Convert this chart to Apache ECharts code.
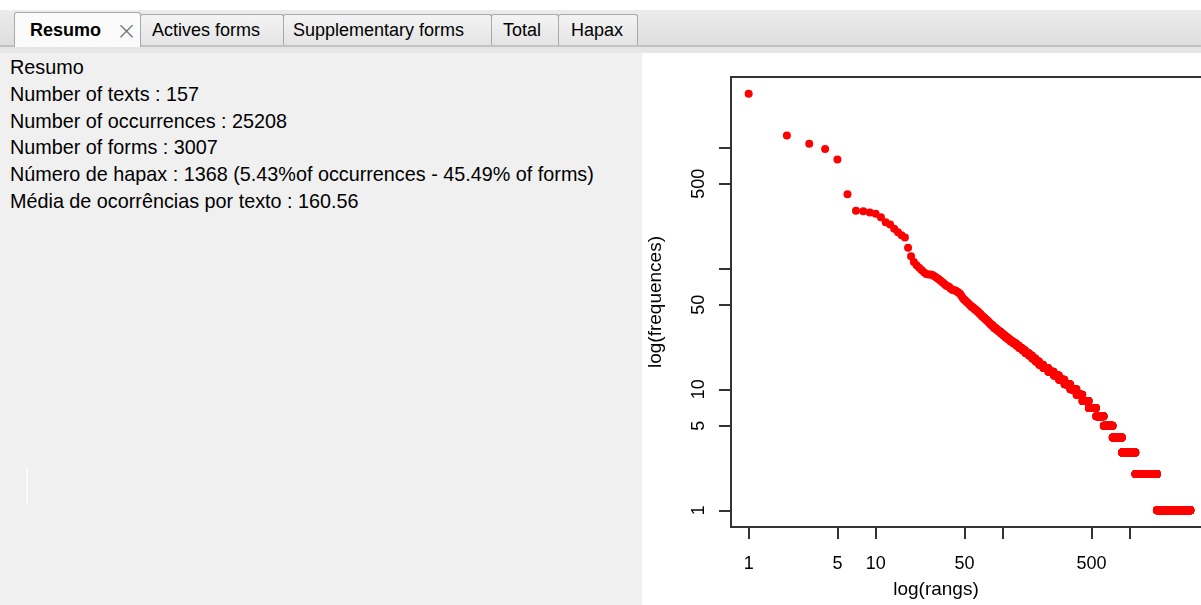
<!DOCTYPE html>
<html>
<head>
<meta charset="utf-8">
<script src="https://cdn.jsdelivr.net/npm/echarts@6/dist/echarts.min.js"></script>
<style>
html,body{margin:0;padding:0;width:1201px;height:605px;overflow:hidden;background:#fff;font-family:"Liberation Sans",Arial,sans-serif;}
#tabstrip{position:absolute;left:0;top:10px;width:1201px;height:36px;background:linear-gradient(#ebebeb,#dedede);}
#tabline{position:absolute;left:0;top:45px;width:1201px;height:2px;background:#c2c2c2;}
#tabband{position:absolute;left:0;top:47px;width:1201px;height:6px;background:#e6e6e6;}
.tab{position:absolute;box-sizing:border-box;border:1px solid #a9a9a9;border-bottom:none;border-radius:3px 3px 0 0;background:linear-gradient(#f4f4f4,#e4e4e4);}
.tab.active{background:#fbfbfb;}
.tabtxt{position:absolute;font-size:18px;line-height:20px;color:#000;white-space:nowrap;}
.tabtxt.bold{font-weight:bold;}
.close{position:absolute;font-size:25px;line-height:24px;color:#707070;font-family:"DejaVu Sans",sans-serif;font-weight:200;}
#left{position:absolute;left:0;top:53px;width:642px;height:552px;background:#f0f0f0;}
#summary{position:absolute;left:10px;top:54px;font-size:19.8px;line-height:26.8px;color:#000;white-space:nowrap;}
#caret{position:absolute;left:26px;top:467px;width:2px;height:37px;background:#fbfbfb;}
#chart{position:absolute;left:642px;top:53px;width:559px;height:552px;background:#fff;}
</style>
</head>
<body>
<div id="tabstrip"></div>
<div id="tabline"></div>
<div id="tabband"></div>
<div id="tabs"></div>
<div id="left"></div>
<div id="summary"></div>
<div id="caret"></div>
<div id="chart"></div>
<script>
// ---- text content ----
const tabLabels = ['Resumo', 'Actives forms', 'Supplementary forms', 'Total', 'Hapax'];
const summaryLines = [
  'Resumo',
  'Number of texts : 157',
  'Number of occurrences : 25208',
  'Number of forms : 3007',
  'Número de hapax : 1368 (5.43%of occurrences - 45.49% of forms)',
  'Média de ocorrências por texto : 160.56'
];

// ---- data: rank-frequency (Zipf) ----
// frequencies of the individually visible top-ranked forms (rank 1..68)
const headFreqs = [
  2780, 1256, 1072, 968, 796, 409, 300, 296, 290, 283,
  265, 241, 230, 213, 199, 188, 180, 148, 126, 113,
  106, 101, 97, 93, 90, 89, 89, 88, 86, 84,
  82, 80, 78, 76, 74, 72, 71, 70, 68, 67,
  66, 66, 65, 64, 63, 62, 60, 58, 56, 55,
  54, 53, 52, 51, 50, 49, 48, 48, 47, 46,
  46, 45, 44, 44, 43, 42, 42, 41
];
// lower frequency levels and number of forms having each frequency
const levelFreqs  = [40, 39, 38, 37, 36, 35, 34, 33, 32, 31, 30, 29, 28, 27, 26, 25, 24, 23, 22, 21,
                     20, 19, 18, 17, 16, 15, 14, 13, 12, 11, 10, 9, 8, 7, 6, 5, 4, 3, 2, 1];
const levelCounts = [2, 2, 2, 2, 2, 2, 3, 2, 4, 3, 4, 4, 4, 5, 5, 6, 7, 7, 8, 8,
                     10, 10, 11, 12, 15, 20, 24, 25, 29, 34, 41, 43, 52, 68, 80, 110, 135, 240, 530, 1368];

// axis ticks / labels (log scale)
const xTickValues  = [1, 5, 10, 50, 100, 500, 1000];
const xLabelValues = [1, 5, 10, 50, 500];
const yTickValues  = [1, 5, 10, 50, 100, 500, 1000];
const yLabelValues = [1, 5, 10, 50, 500];
const xTitle = 'log(rangs)';
const yTitle = 'log(frequences)';

// ---- build tabs ----
const tabLayout = [
  {left: 14, top: 12, width: 127, height: 35, tx: 30, active: true},
  {left: 140, top: 14, width: 144, height: 31, tx: 152},
  {left: 283, top: 14, width: 209, height: 31, tx: 293},
  {left: 491, top: 14, width: 68, height: 31, tx: 503},
  {left: 558, top: 14, width: 80, height: 31, tx: 571}
];
const tabsEl = document.getElementById('tabs');
tabLabels.forEach((t, i) => {
  const L = tabLayout[i];
  const d = document.createElement('div');
  d.className = 'tab' + (L.active ? ' active' : '');
  d.style.left = L.left + 'px'; d.style.top = L.top + 'px';
  d.style.width = L.width + 'px'; d.style.height = L.height + 'px';
  tabsEl.appendChild(d);
  const s = document.createElement('div');
  s.className = 'tabtxt' + (L.active ? ' bold' : '');
  s.style.left = L.tx + 'px'; s.style.top = '20px';
  s.textContent = t;
  tabsEl.appendChild(s);
});
const cl = document.createElement('div');
cl.className = 'close'; cl.style.left = '116px'; cl.style.top = '19px'; cl.textContent = '×';
tabsEl.appendChild(cl);

document.getElementById('summary').innerHTML = summaryLines.map(s => '<div>' + s + '</div>').join('');

// ---- chart ----
const lg = v => Math.log10(v);
const points = [];
let rank = 1;
headFreqs.forEach(f => { points.push([lg(rank), lg(f)]); rank++; });
levelFreqs.forEach((f, i) => {
  for (let k = 0; k < levelCounts[i]; k++) { points.push([lg(rank), lg(f)]); rank++; }
});

const fmt = v => String(Math.round(Math.pow(10, v)));
const axisFont = {color: '#000', fontSize: 18, fontFamily: '"Liberation Sans", Arial, sans-serif'};
const tickStyle = {color: '#333', width: 2};

const chart = echarts.init(document.getElementById('chart'), null, {renderer: 'canvas'});
chart.setOption({
  animation: false,
  backgroundColor: '#fff',
  grid: {left: 89, top: 24, width: 477, height: 450, show: true, borderColor: '#333', borderWidth: 2,
         backgroundColor: '#fff', containLabel: false, outerBoundsMode: 'none'},
  xAxis: {
    type: 'value', min: -0.139, max: 3.617,
    splitLine: {show: false}, axisLine: {show: false, onZero: false},
    axisTick: {show: true, inside: false, length: 12, customValues: xTickValues.map(lg), lineStyle: tickStyle},
    axisLabel: Object.assign({customValues: xLabelValues.map(lg), formatter: fmt, margin: 28}, axisFont),
    name: xTitle, nameLocation: 'middle', nameGap: 53, nameMoveOverlap: false,
    nameTextStyle: {color: '#000', fontSize: 19, fontFamily: '"Liberation Sans", Arial, sans-serif', padding: [0, 67, 0, 0]}
  },
  yAxis: {
    type: 'value', min: -0.138, max: 3.582,
    splitLine: {show: false}, axisLine: {show: false, onZero: false},
    axisTick: {show: true, inside: false, length: 12, customValues: yTickValues.map(lg), lineStyle: tickStyle},
    axisLabel: Object.assign({customValues: yLabelValues.map(lg), formatter: fmt, margin: 23, rotate: 90}, axisFont),
    name: yTitle, nameLocation: 'middle', nameGap: 66, nameRotate: 90, nameMoveOverlap: false,
    nameTextStyle: {color: '#000', fontSize: 19, fontFamily: '"Liberation Sans", Arial, sans-serif'}
  },
  series: [{
    type: 'scatter', data: points, symbol: 'circle', symbolSize: 8,
    itemStyle: {color: '#ff0000', opacity: 1}, silent: true
  }]
});
</script>
</body>
</html>
